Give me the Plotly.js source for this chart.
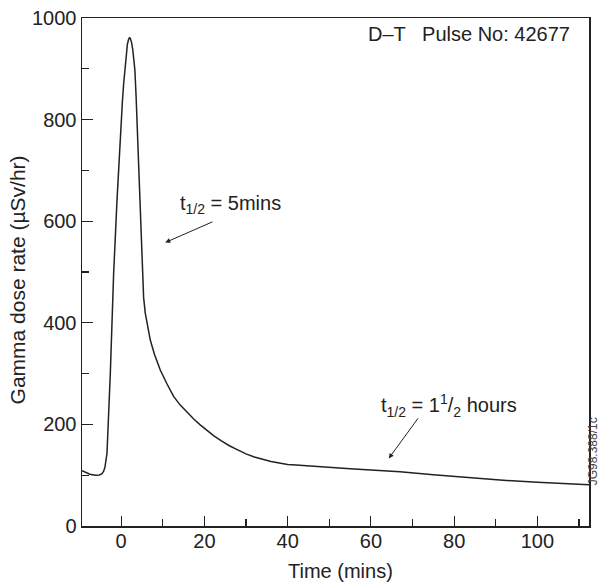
<!DOCTYPE html>
<html>
<head>
<meta charset="utf-8">
<script src="https://cdn.plot.ly/plotly-3.0.1.min.js"></script>
<style>html,body{margin:0;padding:0;background:#fff;}#chart{width:603px;height:583px;}</style>
</head>
<body>
<div id="chart"></div>
<script>
// Time (mins)
const timeMins = [-9.4, -8.5, -7.5, -6.2, -5.2, -4.6, -4.2, -3.9, -3.7, -3.5, -3.4, -2.6, -1.8, -1.0, -0.2, 0.3, 0.6, 0.9, 1.2, 1.5, 1.8, 2.0, 2.2, 2.5, 2.8, 3.1, 3.3, 3.6, 3.8, 4.1, 4.5, 4.9, 5.0, 5.05, 5.1, 5.4, 5.8, 6.4, 7.0, 8, 9.4, 11, 12.6, 14.2, 16, 17.5, 19, 20.5, 22.2, 24, 26, 28, 30, 32, 34.2, 36, 38, 40, 42, 45, 50, 55, 60, 67, 75, 85, 91, 100, 112.4];
// Gamma dose rate (µSv/hr)
const doseRate = [109, 106, 102, 100, 100.5, 103, 108, 115, 125, 135, 143, 300, 497, 640, 775, 835, 870, 900, 928, 948, 958, 961, 960, 952, 938, 915, 898, 845, 800, 740, 650, 565, 540, 505, 484, 450, 419, 390, 366, 338, 307, 280, 255, 238, 222, 210, 199, 189, 178, 168, 158, 150, 142, 136, 131, 127, 124, 121, 120, 118, 115, 112.5, 110, 107, 101, 94, 90.5, 86, 81];

const xTickVals = [0, 20, 40, 60, 80, 100];
const yTickVals = [0, 200, 400, 600, 800, 1000];

const xTitle = 'Time (mins)';
const yTitle = 'Gamma dose rate (\u00b5Sv/hr)';
const titleText = 'D\u2013T   Pulse No: 42677';
const note1 = 't<sub>1/2</sub> = 5mins';
const note2 = 't<sub>1/2</sub> = 1<sup>1</sup>/<sub>2</sub> hours';
const codeText = 'JG98.388/1c';

const FONT = 'Liberation Sans, Arial, Helvetica, sans-serif';
const INK = '#222';
const FS = 20;

const trace = {
  x: timeMins, y: doseRate, type: 'scatter', mode: 'lines',
  line: {color: INK, width: 1.5, shape: 'linear'},
  hoverinfo: 'skip', showlegend: false
};

const axisCommon = {
  showgrid: false, zeroline: false, showline: true, linecolor: INK, linewidth: 1.5,
  mirror: true, ticks: 'inside', tickcolor: INK, tickwidth: 1.2,
  tickfont: {family: FONT, size: FS, color: INK}
};

const layout = {
  width: 603, height: 583,
  margin: {l: 82, r: 14, t: 18, b: 57},
  paper_bgcolor: '#fff', plot_bgcolor: '#fff',
  font: {family: FONT, color: INK},
  xaxis: Object.assign({}, axisCommon, {
    range: [-9.4, 112.4], tickmode: 'array', tickvals: xTickVals, ticklen: 10,
    ticklabelstandoff: -4,
    minor: {tick0: 10, dtick: 20, ticks: 'inside', ticklen: 7, tickcolor: INK, tickwidth: 1.2}
  }),
  yaxis: Object.assign({}, axisCommon, {
    range: [0, 1000], tickmode: 'array', tickvals: yTickVals, ticklen: 11,
    minor: {tick0: 100, dtick: 200, ticks: 'inside', ticklen: 7, tickcolor: INK, tickwidth: 1.2}
  }),
  annotations: [
    {xref: 'paper', yref: 'paper', x: 0.5095, y: -0.088, xanchor: 'center', yanchor: 'middle',
     text: xTitle, showarrow: false, font: {family: FONT, size: FS, color: INK}},
    {xref: 'paper', yref: 'paper', x: -0.1276, y: 0.484, xanchor: 'center', yanchor: 'middle',
     text: yTitle, textangle: -90, showarrow: false, font: {family: FONT, size: 21, color: INK}},
    {xref: 'paper', yref: 'paper', x: 0.967, y: 0.968, xanchor: 'right', yanchor: 'middle',
     text: titleText, showarrow: false, font: {family: FONT, size: FS, color: INK}},
    {xref: 'x', yref: 'y', x: 26.2, y: 632, xanchor: 'center', yanchor: 'middle',
     text: note1, showarrow: false, font: {family: FONT, size: FS, color: INK}},
    {xref: 'x', yref: 'y', x: 10.6, y: 558, axref: 'x', ayref: 'y', ax: 22.3, ay: 600,
     text: '', showarrow: true, arrowhead: 2, arrowsize: 1, arrowwidth: 1, arrowcolor: INK},
    {xref: 'x', yref: 'y', x: 78.8, y: 238, xanchor: 'center', yanchor: 'middle',
     text: note2, showarrow: false, font: {family: FONT, size: FS, color: INK}},
    {xref: 'x', yref: 'y', x: 64.3, y: 133, axref: 'x', ayref: 'y', ax: 71.6, ay: 215,
     text: '', showarrow: true, arrowhead: 2, arrowsize: 1, arrowwidth: 1, arrowcolor: INK},
    {xref: 'paper', yref: 'paper', x: 1.0085, y: 0.1476, xanchor: 'center', yanchor: 'middle',
     text: codeText, textangle: -90, showarrow: false, font: {family: FONT, size: 12, color: '#444'}}
  ]
};

Plotly.newPlot('chart', [trace], layout, {staticPlot: true, displayModeBar: false});
</script>
</body>
</html>
